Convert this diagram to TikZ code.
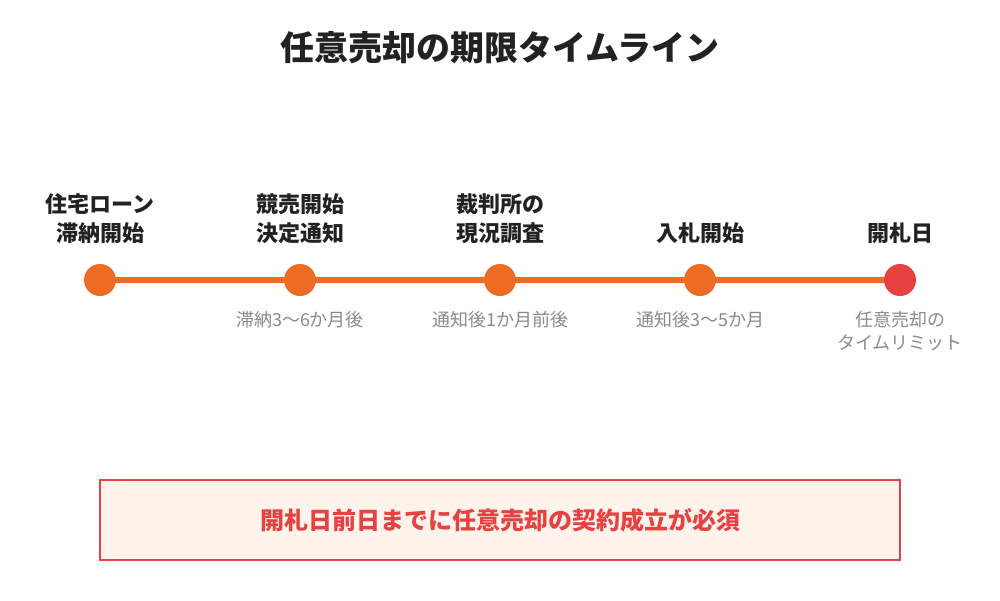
\documentclass[tikz,border=0pt]{standalone}
\usepackage{fontspec}
\setmainfont{Noto Sans CJK JP}
\definecolor{lineorange}{HTML}{EE6B24}
\definecolor{limitred}{HTML}{E84142}
\definecolor{notegray}{HTML}{8A8A8A}
\definecolor{titleblack}{HTML}{222222}
\definecolor{boxfill}{HTML}{FFF3EC}
\tikzset{
  dot/.style={circle, fill=lineorange, minimum size=32pt, inner sep=0pt},
  steplabel/.style={font=\fontsize{22}{29}\selectfont\bfseries, text=titleblack, align=center, anchor=base},
  note/.style={font=\fontsize{18}{23}\selectfont, text=notegray, align=center, anchor=base}
}
\begin{document}
\begin{tikzpicture}[x=1pt, y=-1pt]
  \useasboundingbox (0,0) rectangle (1000,600);
  %\draw[help lines, step=50] (0,0) grid (1000,600);

  \node [font=\fontsize{34}{40}\selectfont\bfseries, text=titleblack, anchor=base] (title) at (500,60) {任意売却の期限タイムライン};

  % milestones
  \node [dot] (loan) at (100,280) {};
  \node [dot] (notice) at (300,280) {};
  \node [dot] (survey) at (500,280) {};
  \node [dot] (bid) at (700,280) {};
  \node [dot, fill=limitred] (open) at (900,280) {};

  \draw [line width=6pt, lineorange] (loan) -- (notice);
  \draw [line width=6pt, lineorange] (notice) -- (survey);
  \draw [line width=6pt, lineorange] (survey) -- (bid);
  \draw [line width=6pt, lineorange] (bid) -- (open);

  % labels above (base = last line)
  \node [steplabel] (loanlbl) at (100,241) {住宅ローン\\滞納開始};
  \node [steplabel] (noticelbl) at (300,241) {競売開始\\決定通知};
  \node [steplabel] (surveylbl) at (500,241) {裁判所の\\現況調査};
  \node [steplabel] (bidlbl) at (700,241) {入札開始};
  \node [steplabel] (openlbl) at (900,241) {開札日};

  % notes below
  \node [note] (noticenote) at (300,326) {滞納3〜6か月後};
  \node [note] (surveynote) at (500,326) {通知後1か月前後};
  \node [note] (bidnote) at (700,326) {通知後3〜5か月};
  \node [note] (opennote) at (900,349) {任意売却の\\タイムリミット};

  % deadline box
  \draw [limitred, fill=boxfill, line width=2pt] (100,480) rectangle (900,560);
  \node [font=\fontsize{24}{28}\selectfont\bfseries, text=limitred] (deadline) at (500,520) {開札日前日までに任意売却の契約成立が必須};

\end{tikzpicture}
\end{document}
